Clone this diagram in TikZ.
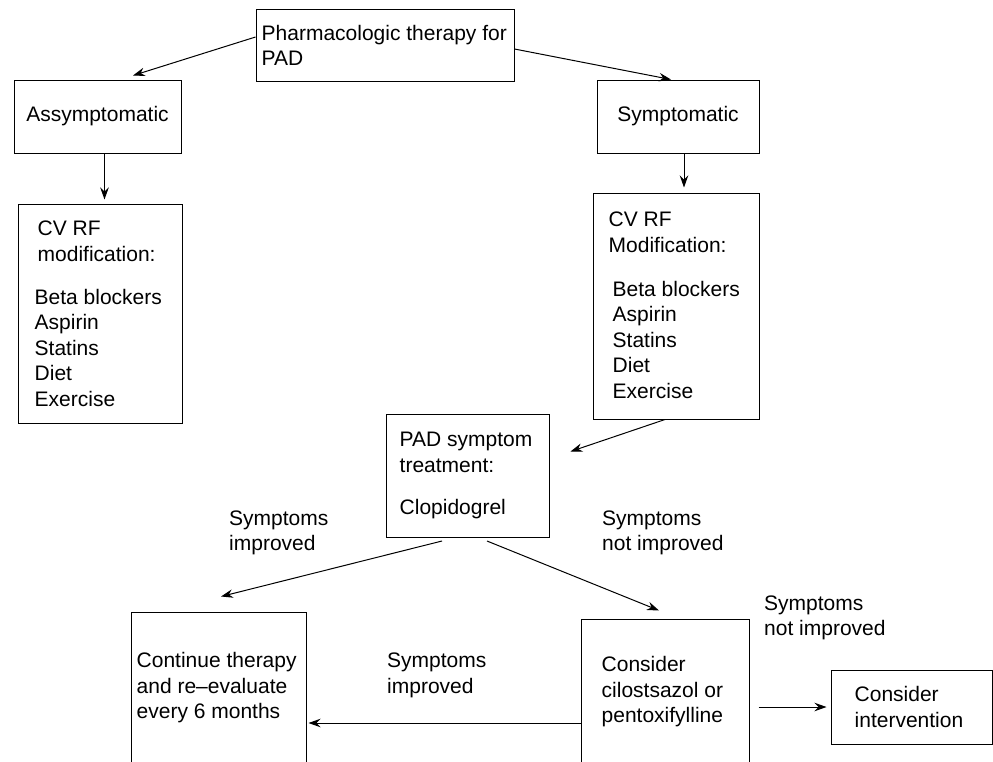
\documentclass[tikz,border=0pt]{standalone}
\usepackage{fontspec}
\setmainfont{Liberation Sans}
\usetikzlibrary{arrows.meta}
\begin{document}
\begin{tikzpicture}[x=1pt,y=-1pt,
  box/.style={draw, line width=1pt, inner sep=0pt},
  txt/.style={inner sep=0pt, align=left, anchor=west},
  lbl/.style={inner sep=0pt, align=left, anchor=west},
  conn/.style={line width=1pt, -{Stealth[length=12pt,width=8.5pt,inset=4pt]}},
  font=\fontsize{21}{25.5}\selectfont]
\clip (0,0) rectangle (993,761);
\fill[white] (0,0) rectangle (993,761);
% boxes
\node[box, minimum width=258pt, minimum height=72pt] (top) at (385,45) {};
\node[box, minimum width=167pt, minimum height=73pt] (assym) at (97.5,116.5) {Assymptomatic};
\node[box, minimum width=162pt, minimum height=73pt] (symp) at (678,116.5) {Symptomatic};
\node[box, minimum width=164pt, minimum height=219pt] (cvl) at (100,313.5) {};
\node[box, minimum width=166pt, minimum height=226pt] (cvr) at (676,306) {};
\node[box, minimum width=163pt, minimum height=123pt] (pad) at (467.5,475.5) {};
\node[box, minimum width=175pt, minimum height=152pt] (cont) at (218.5,688) {};
\node[box, minimum width=168pt, minimum height=146pt] (cons) at (665,692) {};
\node[box, minimum width=161pt, minimum height=74pt] (interv) at (911.5,707) {};
% box texts
\node[txt] (topT) at (261.5,45.5) {Pharmacologic therapy for\\PAD};
\node[txt] (cvlT) at (34.5,314) {\hspace{3pt}CV RF\\\hspace{3pt}modification:\\[17.5pt]Beta blockers\\Aspirin\\Statins\\Diet\\Exercise};
\node[txt] (cvrT) at (608.5,305.5) {CV RF\\Modification:\\[18.5pt]\hspace{4pt}Beta blockers\\\hspace{4pt}Aspirin\\\hspace{4pt}Statins\\\hspace{4pt}Diet\\\hspace{4pt}Exercise};
\node[txt] (padT) at (399.5,475.5) {PAD symptom\\treatment:\\[16.5pt]Clopidogrel};
\node[txt] (contT) at (136.5,688) {Continue therapy\\and re--evaluate\\every 6 months};
\node[txt] (consT) at (601.5,692) {Consider\\cilostsazol or\\pentoxifylline};
\node[txt] (intervT) at (854.5,707) {Consider\\intervention};
% labels
\node[lbl] (l1) at (229,533) {Symptoms\\improved};
\node[lbl] (l2) at (602,533) {Symptoms\\not improved};
\node[lbl] (l3) at (764,618) {Symptoms\\not improved};
\node[lbl] (l4) at (387,675.5) {Symptoms\\improved};
% connectors
\draw[conn] ([yshift=8pt]top.west) -- ([xshift=35.5pt,yshift=4pt]assym.north);
\draw[conn] ([yshift=-4pt]top.east) -- ([xshift=-7pt]symp.north);
\draw[conn, shorten >=4pt] ([xshift=7pt]assym.south) -- ([xshift=7pt]assym.south |- cvl.north);
\draw[conn, shorten >=5pt] ([xshift=6pt]symp.south) -- ([xshift=6pt]symp.south |- cvr.north);
\draw[conn] ([xshift=-11pt]cvr.south) -- ([xshift=21pt,yshift=24pt]pad.east);
\draw[conn] ([xshift=-25.5pt,yshift=-3.5pt]pad.south) -- ([xshift=2.5pt,yshift=15pt]cont.north);
\draw[conn] ([xshift=19.5pt,yshift=-3.5pt]pad.south) -- ([xshift=-6pt,yshift=8pt]cons.north);
\draw[conn, shorten >=2pt] ([yshift=-31pt]cons.west) -- ([yshift=-31pt]cons.west -| cont.east);
\draw[conn, shorten <=9pt, shorten >=4pt] (cons.east |- interv.west) -- (interv.west);
\end{tikzpicture}
\end{document}
